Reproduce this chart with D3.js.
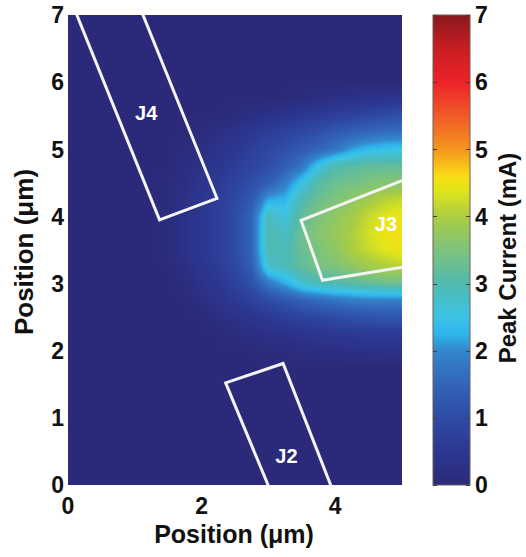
<!DOCTYPE html>
<meta charset="utf-8">
<style>
body { margin: 0; background: #fff; }
text { font-family: "Liberation Sans", Arial, sans-serif; font-weight: bold; fill: #111; }
</style>
<svg width="526" height="557"></svg>
<script src="https://d3js.org/d3.v7.min.js"></script>
<script>

// grid positions (um)
var gridX = [0, 0.25, 0.5, 0.75, 1, 1.25, 1.5, 1.75, 2, 2.25, 2.5, 2.75, 3, 3.25, 3.5, 3.75, 4, 4.25, 4.5, 4.75, 5];
var gridY = [7, 6.75, 6.5, 6.25, 6, 5.75, 5.5, 5.25, 5, 4.75, 4.5, 4.25, 4, 3.75, 3.5, 3.25, 3, 2.75, 2.5, 2.25, 2, 1.75, 1.5, 1.25, 1, 0.75, 0.5, 0.25, 0];

// peak current (mA), one row per gridY, one value per gridX
var peakRows = [
  [0,0,0,0,0,0,0,0,0,0,0,0,0,0,0,0,0,0,0,0,0],
  [0,0,0,0,0,0,0,0,0,0,0,0,0,0,0,0,0,0,0,0,0],
  [0,0,0,0,0,0,0,0,0,0,0,0,0,0,0,0,0,0,0,0,0],
  [0,0,0,0,0,0,0,0,0,0,0,0,0,0,0,0,0,0,0,0,0],
  [0,0,0,0,0,0,0,0,0,0,0,0,0,0,0,0,0,0,0,0,0],
  [0,0,0,0,0,0,0,0,0,0,0,0,0,0,0.1,0.2,0.25,0.3,0.35,0.4,0.45],
  [0,0,0,0,0,0,0,0,0,0,0.1,0.2,0.3,0.4,0.5,0.6,0.7,0.8,0.9,1.0,1.1],
  [0,0,0,0,0,0,0,0,0.1,0.2,0.35,0.5,0.65,0.8,0.95,1.1,1.3,1.45,1.55,1.65,1.7],
  [0,0,0,0,0,0,0,0.1,0.2,0.35,0.5,0.7,0.9,1.1,1.3,1.5,1.75,2.15,2.35,2.45,2.5],
  [0,0,0,0,0,0,0,0.15,0.3,0.45,0.65,0.85,1.05,1.35,1.75,2.5,3.0,3.1,3.2,3.2,3.2],
  [0,0,0,0,0,0,0.1,0.2,0.4,0.6,0.8,1.05,1.4,1.85,2.5,3.1,3.3,3.4,3.5,3.6,3.6],
  [0,0,0,0,0,0,0.1,0.25,0.45,0.65,0.9,1.3,2.2,2.3,3.0,3.3,3.5,3.7,3.9,4.1,4.2],
  [0,0,0,0,0,0,0.1,0.3,0.5,0.7,1.0,1.5,2.9,2.6,3.2,3.5,3.7,3.9,4.2,4.4,4.5],
  [0,0,0,0,0,0,0.1,0.3,0.5,0.7,1.0,1.5,3.0,2.8,3.3,3.6,3.8,4.0,4.3,4.5,4.55],
  [0,0,0,0,0,0,0.1,0.3,0.5,0.7,1.0,1.5,3.0,2.9,3.3,3.5,3.7,4.0,4.2,4.4,4.5],
  [0,0,0,0,0,0,0,0.2,0.4,0.6,0.9,1.4,2.7,2.9,3.2,3.4,3.5,3.7,3.9,4.0,4.1],
  [0,0,0,0,0,0,0,0.1,0.3,0.5,0.75,1.1,1.8,2.2,2.7,2.9,3.0,3.1,3.2,3.3,3.3],
  [0,0,0,0,0,0,0,0,0.2,0.35,0.55,0.75,1.0,1.2,1.45,1.6,1.75,1.85,1.9,1.9,1.9],
  [0,0,0,0,0,0,0,0,0,0.2,0.3,0.4,0.55,0.7,0.8,0.9,1.0,1.1,1.15,1.2,1.2],
  [0,0,0,0,0,0,0,0,0,0,0.1,0.2,0.25,0.3,0.4,0.45,0.5,0.55,0.6,0.6,0.6],
  [0,0,0,0,0,0,0,0,0,0,0,0,0.1,0.1,0.15,0.2,0.2,0.25,0.25,0.3,0.3],
  [0,0,0,0,0,0,0,0,0,0,0,0,0,0,0,0,0,0,0,0,0],
  [0,0,0,0,0,0,0,0,0,0,0,0,0,0,0,0,0,0,0,0,0],
  [0,0,0,0,0,0,0,0,0,0,0,0,0,0,0,0,0,0,0,0,0],
  [0,0,0,0,0,0,0,0,0,0,0,0,0,0,0,0,0,0,0,0,0],
  [0,0,0,0,0,0,0,0,0,0,0,0,0,0,0,0,0,0,0,0,0],
  [0,0,0,0,0,0,0,0,0,0,0,0,0,0,0,0,0,0,0,0,0],
  [0,0,0,0,0,0,0,0,0,0,0,0,0,0,0,0,0,0,0,0,0],
  [0,0,0,0,0,0,0,0,0,0,0,0,0,0,0,0,0,0,0,0,0]
];

// junction outlines (um), extended past the plot edge and clipped
var junctions = [
  {name: "J4", pts: [[1.37, 3.95], [2.23, 4.27], [0.92, 7.5], [-0.07, 7.5]], label: [1.17, 5.54]},
  {name: "J2", pts: [[2.36, 1.52], [3.22, 1.81], [4.05, -0.3], [3.12, -0.3]], label: [3.27, 0.43]},
  {name: "J3", pts: [[3.49, 3.94], [5.6, 4.77], [5.6, 3.34], [3.81, 3.05]], label: [4.76, 3.89]}
];

var xTicks = [0, 2, 4];
var yTicks = [0, 1, 2, 3, 4, 5, 6, 7];
var cbTicks = [0, 1, 2, 3, 4, 5, 6, 7];

// colormap as it looks in the figure (washed-out jet)
var cmapValues = [0, 0.5, 1.0, 1.5, 2.0, 2.25, 2.5, 3.0, 3.5, 4.0, 4.4, 4.6, 5.0, 5.5, 6.0, 6.5, 7.0];
var cmapColors = ["#2b2a7a", "#2c3791", "#2e4ba5", "#3264b9", "#3487cd", "#2db4eb", "#3cc3e6", "#50b9af",
                  "#7dc37d", "#aacd41", "#e1e619", "#fadc14", "#f5961e", "#f05a28", "#eb2328", "#c81e23", "#87191e"];

var svg = d3.select("svg");
var plotL = 68, plotR = 402, plotT = 15, plotB = 485;

var x = d3.scaleLinear().domain([0, 5]).range([plotL, plotR]);
var y = d3.scaleLinear().domain([0, 7]).range([plotB, plotT]);
var color = d3.scaleLinear().domain(cmapValues).range(cmapColors).interpolate(d3.interpolateRgb).clamp(true);

// heat map, bilinear between grid nodes
var w = plotR - plotL, h = plotB - plotT;
var canvas = document.createElement("canvas");
canvas.width = w; canvas.height = h;
var ctx = canvas.getContext("2d");
var img = ctx.createImageData(w, h);
var nx = gridX.length, ny = gridY.length;
for (var j = 0; j < h; j++) {
  var yv = y.invert(plotT + j + 0.5);
  var fy = (gridY[0] - yv) / (gridY[0] - gridY[ny - 1]) * (ny - 1);
  var r0 = Math.max(0, Math.min(ny - 2, Math.floor(fy))), ty = Math.max(0, Math.min(1, fy - r0));
  for (var i = 0; i < w; i++) {
    var xv = x.invert(plotL + i + 0.5);
    var fx = (xv - gridX[0]) / (gridX[nx - 1] - gridX[0]) * (nx - 1);
    var c0 = Math.max(0, Math.min(nx - 2, Math.floor(fx))), tx = Math.max(0, Math.min(1, fx - c0));
    var v = (peakRows[r0][c0] * (1 - tx) + peakRows[r0][c0 + 1] * tx) * (1 - ty) +
            (peakRows[r0 + 1][c0] * (1 - tx) + peakRows[r0 + 1][c0 + 1] * tx) * ty;
    var c = d3.rgb(color(v));
    var k = (j * w + i) * 4;
    img.data[k] = c.r; img.data[k + 1] = c.g; img.data[k + 2] = c.b; img.data[k + 3] = 255;
  }
}
ctx.putImageData(img, 0, 0);

svg.append("image")
    .attr("x", plotL).attr("y", plotT)
    .attr("width", w).attr("height", h)
    .attr("href", canvas.toDataURL());

svg.append("clipPath").attr("id", "plotClip")
  .append("rect").attr("x", plotL).attr("y", plotT).attr("width", w).attr("height", h);

var line = d3.line().x(function(d) { return x(d[0]); }).y(function(d) { return y(d[1]); });

var jg = svg.append("g").attr("clip-path", "url(#plotClip)");
jg.selectAll("path")
  .data(junctions)
  .enter().append("path")
    .attr("d", function(d) { return line(d.pts) + "Z"; })
    .attr("fill", "none")
    .attr("stroke", "#f4f4f4")
    .attr("stroke-width", 3);

svg.selectAll(".jlabel")
  .data(junctions)
  .enter().append("text")
    .attr("class", "jlabel")
    .attr("x", function(d) { return x(d.label[0]); })
    .attr("y", function(d) { return y(d.label[1]); })
    .attr("dy", "0.36em")
    .attr("text-anchor", "middle")
    .style("fill", "#fff")
    .style("font-size", "20px")
    .text(function(d) { return d.name; });

// tick labels
svg.selectAll(".xt")
  .data(xTicks)
  .enter().append("text")
    .attr("x", function(d) { return x(d); })
    .attr("y", 514)
    .attr("text-anchor", "middle")
    .style("font-size", "23px")
    .text(function(d) { return d; });

svg.selectAll(".yt")
  .data(yTicks)
  .enter().append("text")
    .attr("x", 64)
    .attr("y", function(d) { return y(d); })
    .attr("dy", "0.36em")
    .attr("text-anchor", "end")
    .style("font-size", "23px")
    .text(function(d) { return d; });

svg.append("text")
    .attr("x", 234).attr("y", 543)
    .attr("text-anchor", "middle")
    .style("font-size", "25px")
    .text("Position (μm)");

svg.append("text")
    .attr("transform", "translate(33,252) rotate(-90)")
    .attr("text-anchor", "middle")
    .style("font-size", "26px")
    .text("Position (μm)");

// colorbar
var cbLeft = 433, cbRight = 470;
var cy = d3.scaleLinear().domain([0, 7]).range([plotB, plotT]);
var grad = svg.append("defs").append("linearGradient")
    .attr("id", "cbGrad")
    .attr("x1", 0).attr("y1", 1).attr("x2", 0).attr("y2", 0);
grad.selectAll("stop")
  .data(cmapValues)
  .enter().append("stop")
    .attr("offset", function(d) { return d / 7; })
    .attr("stop-color", function(d) { return color(d); });

svg.append("rect")
    .attr("x", cbLeft).attr("y", plotT)
    .attr("width", cbRight - cbLeft).attr("height", plotB - plotT)
    .attr("fill", "url(#cbGrad)")
    .attr("stroke", "#6e5e50")
    .attr("stroke-width", 1);

svg.selectAll(".cbtick")
  .data(cbTicks)
  .enter().append("path")
    .attr("d", function(d) {
      var yy = Math.round(cy(d)) + 0.5;
      return "M" + cbLeft + "," + yy + "h4M" + cbRight + "," + yy + "h-4";
    })
    .attr("stroke", "#4a3a30")
    .attr("stroke-width", 1.2);

svg.selectAll(".cbt")
  .data(cbTicks)
  .enter().append("text")
    .attr("x", 475)
    .attr("y", function(d) { return cy(d); })
    .attr("dy", "0.36em")
    .style("font-size", "23px")
    .text(function(d) { return d; });

svg.append("text")
    .attr("transform", "translate(516,258) rotate(-90)")
    .attr("text-anchor", "middle")
    .style("font-size", "24px")
    .text("Peak Current (mA)");

</script>
